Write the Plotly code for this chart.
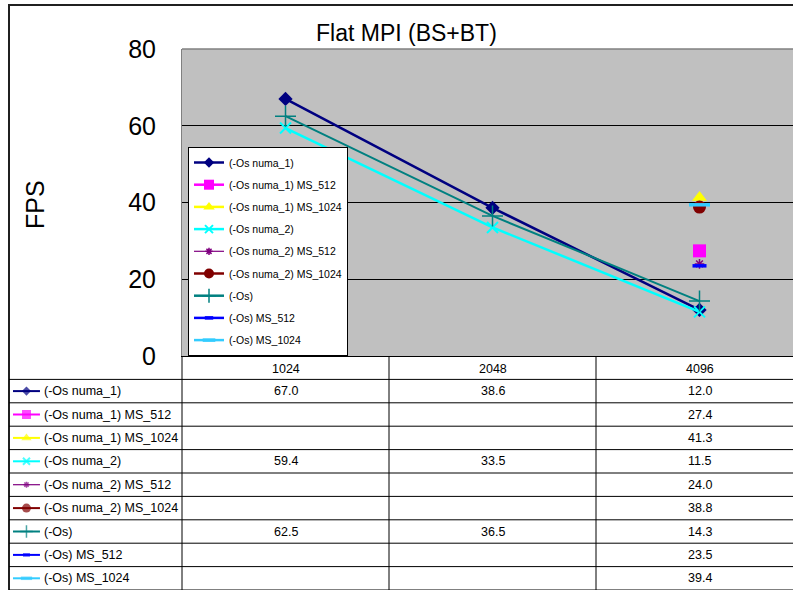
import plotly.graph_objects as go

categories = ["1024", "2048", "4096"]
series_names = [
    "(-Os numa_1)", "(-Os numa_1) MS_512", "(-Os numa_1) MS_1024",
    "(-Os numa_2)", "(-Os numa_2) MS_512", "(-Os numa_2) MS_1024",
    "(-Os)", "(-Os) MS_512", "(-Os) MS_1024",
]
numa1 = [67.0, 38.6, 12.0]
numa1_ms512 = [None, None, 27.4]
numa1_ms1024 = [None, None, 41.3]
numa2 = [59.4, 33.5, 11.5]
numa2_ms512 = [None, None, 24.0]
numa2_ms1024 = [None, None, 38.8]
os_ = [62.5, 36.5, 14.3]
os_ms512 = [None, None, 23.5]
os_ms1024 = [None, None, 39.4]
series_values = [numa1, numa1_ms512, numa1_ms1024, numa2, numa2_ms512,
                 numa2_ms1024, os_, os_ms512, os_ms1024]
y_ticks = [0, 20, 40, 60, 80]

W, H = 793, 590
FONT = "Arial, Liberation Sans, sans-serif"
cat_pos = list(range(len(categories)))

# style per series: color, symbol, plot marker size, line width, marker line width, key size
styles = [
    dict(c="#000080", sym="diamond", ms=11, lw=2.5, mlw=0, ks=8),
    dict(c="#FF00FF", sym="square", ms=13, lw=3, mlw=0, ks=10),
    dict(c="#FFFF00", sym="triangle-up", ms=13, lw=3, mlw=0, ks=10),
    dict(c="#00FFFF", sym="x-thin", ms=11, lw=2.5, mlw=2, ks=8),
    dict(c="#800080", sym="asterisk", ms=8, lw=1.2, mlw=1.5, ks=6),
    dict(c="#800000", sym="circle", ms=13, lw=3, mlw=0, ks=10),
    dict(c="#008080", sym="cross-thin", ms=15, lw=2, mlw=1.5, ks=10),
    dict(c="#0000FF", sym="line-ew", ms=10, lw=2.5, mlw=3.5, ks=6),
    dict(c="#33CCFF", sym="line-ew", ms=15, lw=2.5, mlw=3.5, ks=9),
]

fig = go.Figure()

# data series
for i, (name, vals, st) in enumerate(zip(series_names, series_values, styles)):
    marker = dict(symbol=st["sym"], size=st["ms"], color=st["c"],
                  line=dict(color=st["c"], width=st["mlw"]))
    fig.add_trace(go.Scatter(
        x=cat_pos, y=vals, name=name, mode="lines+markers",
        line=dict(color=st["c"], width=st["lw"]), marker=marker,
        showlegend=False, xaxis="x", yaxis="y", connectgaps=False,
    ))

# legend keys (legend-only entries with key-sized markers)
for i, (name, st) in enumerate(zip(series_names, styles)):
    fig.add_trace(go.Scatter(
        x=[None], y=[None], name=name, mode="lines+markers",
        line=dict(color=st["c"], width=2.5 if st["lw"] > 1.5 else 1.2),
        marker=dict(symbol=st["sym"], size=st["ks"], color=st["c"],
                    line=dict(color=st["c"], width=st["mlw"])),
        legendgroup="g%d" % i, showlegend=True, xaxis="x", yaxis="y",
    ))

# table keys (legend keys drawn in the data table)
for r, st in enumerate(styles):
    fig.add_trace(go.Scatter(
        x=[0.023, 0.101, 0.179], y=[r, r, r], mode="lines+markers",
        line=dict(color=st["c"], width=2 if st["lw"] > 1.5 else 1.2),
        marker=dict(symbol=st["sym"], size=[0, st["ks"] - 1, 0], color=st["c"],
                    line=dict(color=st["c"], width=st["mlw"])),
        showlegend=False, xaxis="x2", yaxis="y2", hoverinfo="skip",
    ))

plot_left = 182 / W
plot_bottom = 1 - 356 / H
plot_top = 1 - 49 / H

shapes = []
# plot area background
shapes.append(dict(type="rect", xref="x domain", yref="y domain", x0=0, x1=1, y0=0, y1=1,
                   fillcolor="#C0C0C0", line=dict(width=0), layer="below"))
# outer chart border
shapes.append(dict(type="rect", xref="paper", yref="paper", x0=9 / W, x1=1.02,
                   y0=-0.02, y1=1 - 5 / H, line=dict(color="#202020", width=2),
                   fillcolor="rgba(0,0,0,0)", layer="above"))
# plot top border (gray)
shapes.append(dict(type="line", xref="paper", yref="paper", x0=plot_left, x1=1,
                   y0=plot_top, y1=plot_top, line=dict(color="#808080", width=1.5),
                   layer="above"))
# table horizontal lines
for k in range(len(series_names) + 1):
    yv = k - 0.5
    shapes.append(dict(type="line", xref="paper", yref="y2", x0=9 / W, x1=1,
                       y0=yv, y1=yv, line=dict(color="black", width=1)))
# table vertical lines
shapes.append(dict(type="line", xref="paper", yref="paper", x0=plot_left, x1=plot_left,
                   y0=0, y1=plot_bottom, line=dict(color="black", width=1)))
for xb in [0.5, 1.5]:
    shapes.append(dict(type="line", xref="x", yref="paper", x0=xb, x1=xb,
                       y0=0, y1=plot_bottom, line=dict(color="black", width=1)))

TF = dict(family=FONT, size=12.5, color="black")
annotations = []
annotations.append(dict(text="Flat MPI (BS+BT)", xref="paper", yref="paper",
                        x=406 / W, y=1 - 33 / H, xanchor="center", yanchor="middle",
                        showarrow=False, font=dict(family=FONT, size=23, color="black")))
annotations.append(dict(text="FPS", xref="paper", yref="paper", x=35 / W,
                        y=1 - 205 / H, textangle=-90, xanchor="center", yanchor="middle",
                        showarrow=False, font=dict(family=FONT, size=25, color="black")))
# header row
for p, c in zip(cat_pos, categories):
    annotations.append(dict(text=c, xref="x", yref="y2", x=p, y=-0.95, showarrow=False,
                            xanchor="center", yanchor="middle", font=TF))
# row labels and values
for r, (name, vals) in enumerate(zip(series_names, series_values)):
    annotations.append(dict(text=name, xref="x2", yref="y2", x=0.19, y=r,
                            xanchor="left", yanchor="middle", showarrow=False, font=TF))
    for p, v in zip(cat_pos, vals):
        if v is None:
            continue
        annotations.append(dict(text="%.1f" % v, xref="x", yref="y2", x=p, y=r,
                                xanchor="center", yanchor="middle", showarrow=False,
                                font=TF))

fig.update_layout(
    width=W, height=H, margin=dict(l=0, r=0, t=0, b=0, autoexpand=False),
    paper_bgcolor="white", plot_bgcolor="rgba(0,0,0,0)",
    font=dict(family=FONT, color="black"),
    xaxis=dict(domain=[plot_left, 1], range=[-0.5, 2.5 - 10 / 207],
               showgrid=False, zeroline=False, showticklabels=False, ticks="",
               showline=True, linecolor="black", linewidth=1, anchor="y",
               fixedrange=True, automargin=False),
    yaxis=dict(domain=[plot_bottom, plot_top], range=[0, 80], tickvals=y_ticks,
               showgrid=True, gridcolor="black", gridwidth=1, zeroline=False,
               showline=True, linecolor="#808080", linewidth=1, ticks="",
               tickfont=dict(family=FONT, size=25, color="black"),
               ticklabelstandoff=20, anchor="x", fixedrange=True, automargin=False),
    xaxis2=dict(domain=[9 / W, plot_left], range=[0, 1], visible=False, anchor="y2",
                fixedrange=True, automargin=False),
    yaxis2=dict(domain=[0, plot_bottom], range=[8.5, -1.5], visible=False, anchor="x2",
                fixedrange=True, automargin=False),
    legend=dict(x=188 / W, y=1 - 147 / H, xanchor="left", yanchor="top",
                bgcolor="white", bordercolor="black", borderwidth=1,
                font=dict(family=FONT, size=10.5, color="black"),
                tracegroupgap=3.2, traceorder="grouped", itemwidth=30),
    shapes=shapes, annotations=annotations, showlegend=True,
)

fig.write_html("out.html")
